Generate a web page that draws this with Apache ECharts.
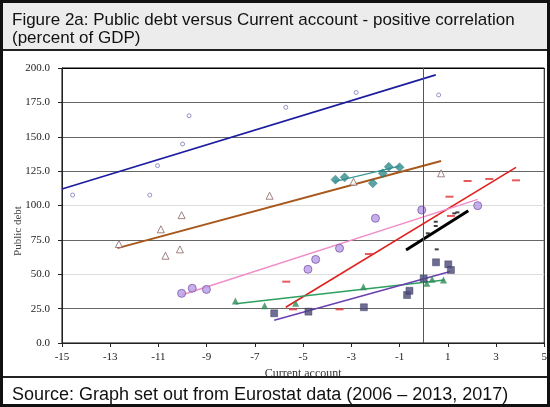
<!DOCTYPE html>
<html>
<head>
<meta charset="utf-8">
<script src="https://cdn.jsdelivr.net/npm/echarts@6/dist/echarts.min.js"></script>
<style>
  html, body { margin: 0; padding: 0; background: #fff; }
  #chart { width: 550px; height: 407px; }
</style>
</head>
<body>
<div id="chart"></div>
<script>
// points: [current account, public debt]
const bluePts = [[-14.56, 107.6], [-11.36, 107.6], [-11.04, 129.0], [-10.0, 144.7], [-9.73, 165.3], [-5.72, 171.4], [-2.8, 182.2], [0.62, 180.4]]
const blueTrend = [[-15, 112], [0.5, 195]]

const orangePts = [[-12.64, 72], [-10.9, 82.7], [-10.71, 63.5], [-10.11, 68.1], [-10.04, 93], [-6.39, 107.1], [-2.91, 117.3], [0.72, 123.4]]
const orangeTrend = [[-12.7, 69], [0.72, 132.4]]

const tealPts = [[-3.66, 118.8], [-3.28, 120.5], [-2.11, 116.1], [-1.7, 123.4], [-1.45, 128.2], [-1.0, 127.8]]
const tealTrend = [[-3.7, 117.3], [-1.0, 128.7]]

const redPts = [[-5.7, 44.6], [-5.42, 24.5], [-3.49, 24.5], [-2.27, 64.7], [1.13, 92.4], [1.07, 106.4], [1.82, 117.8], [2.72, 119.3], [3.83, 118.3]]
const redTrend = [[-5.72, 26], [3.83, 127.7]]

const pinkPts = [[-10.04, 36.1], [-9.6, 39.8], [-9.01, 39], [-4.8, 53.6], [-4.48, 60.8], [-3.49, 68.9], [-2.0, 90.7], [-0.08, 96.7], [2.24, 99.9]]
const pinkTrend = [[-10.04, 34.9], [2.24, 104.5]]

const greenPts = [[-7.81, 30.5], [-6.6, 27.1], [-5.31, 28.9], [-2.5, 41], [0.13, 43.4], [0.35, 46.3], [0.82, 45.8]]
const greenTrend = [[-7.8, 28.5], [0.86, 45.9]]

const navyPts = [[-6.2, 21.6], [-4.78, 22.8], [-2.48, 26], [-0.69, 34.9], [-0.59, 38], [0.0, 47], [0.51, 58.7], [1.02, 57.2], [1.13, 53.1]]
const navyTrend = [[-6.2, 16.5], [1.1, 52]]

const blackPts = [[0.17, 79.8], [0.5, 88.2], [0.5, 85.1], [0.54, 68.1], [1.27, 94.3], [1.4, 95]]
const blackTrend = [[-0.73, 67.6], [1.85, 96.2]]

// y gridline colours, from 0 up to 200 (the 50 and 100 lines are faint)
const gridColors = ['#000', '#666', '#ddd', '#666', '#ddd', '#666', '#666', '#666', '#000']

const serif = 'Liberation Serif'
const sans = 'Liberation Sans'

const trend = (data, color, width) => ({
  type: 'line', data, symbol: 'none', silent: true,
  lineStyle: { color, width }, z: 3
})

const pts = (data, symbol, size, itemStyle) => ({
  type: 'scatter', data, symbol, symbolSize: size, itemStyle, z: 4
})

const chart = echarts.init(document.getElementById('chart'))

chart.setOption({
  animation: false,
  backgroundColor: '#fff',
  textStyle: { fontFamily: serif },
  title: [
    {
      text: 'Figure 2a: Public debt versus Current account - positive correlation\n(percent of GDP)',
      left: 7, top: 6,
      textStyle: { fontFamily: sans, fontSize: 17, fontWeight: 'normal', color: '#111', lineHeight: 18 }
    },
    {
      text: 'Source: Graph set out from Eurostat data (2006 – 2013, 2017)',
      left: 7, top: 381,
      textStyle: { fontFamily: sans, fontSize: 18, fontWeight: 'normal', color: '#111' }
    }
  ],
  graphic: [
    { type: 'rect', shape: { x: 0, y: 0, width: 550, height: 50 }, style: { fill: '#ececec' }, z: -10 },
    { type: 'rect', shape: { x: 0, y: 49, width: 550, height: 2 }, style: { fill: '#222' }, z: 10 },
    { type: 'rect', shape: { x: 0, y: 376, width: 550, height: 2 }, style: { fill: '#222' }, z: 10 },
    { type: 'rect', shape: { x: 1.5, y: 1.5, width: 547, height: 404 }, style: { fill: 'none', stroke: '#111', lineWidth: 3 }, z: 10 },
    {
      type: 'text', x: 18, y: 231, rotation: Math.PI / 2,
      style: { text: 'Public debt', fontFamily: serif, fontSize: 11, fill: '#444', textAlign: 'center', textVerticalAlign: 'middle' }
    }
  ],
  grid: { left: 62, right: 5, top: 68, bottom: 64, show: true, borderColor: '#000', borderWidth: 1 },
  xAxis: {
    type: 'value', min: -15, max: 5, interval: 2,
    name: 'Current account', nameLocation: 'middle', nameGap: 24,
    nameTextStyle: { fontFamily: serif, fontSize: 12, color: '#333' },
    axisLine: { onZero: false, lineStyle: { color: '#222' } },
    axisTick: { show: true, length: 4, lineStyle: { color: '#222' } },
    axisLabel: { fontFamily: serif, fontSize: 11, color: '#222', margin: 9 },
    splitLine: { show: false }
  },
  yAxis: {
    type: 'value', min: 0, max: 200, interval: 25,
    axisLine: { show: true, onZero: false, lineStyle: { color: '#222' } },
    axisTick: { show: true, length: 4, lineStyle: { color: '#222' } },
    axisLabel: { fontFamily: serif, fontSize: 11, color: '#222', margin: 12, formatter: v => v.toFixed(1) },
    splitLine: { show: true, lineStyle: { color: gridColors, width: 1 } }
  },
  series: [
    {
      type: 'line', data: [], silent: true,
      markLine: {
        silent: true, symbol: 'none', label: { show: false },
        lineStyle: { color: '#555', width: 1, type: 'solid' },
        data: [{ xAxis: 0 }]
      }
    },
    trend(blueTrend, '#1c1ca0', 1.6),
    trend(orangeTrend, '#a8581c', 2),
    trend(tealTrend, '#3a9a9a', 1.3),
    trend(redTrend, '#e0201c', 1.6),
    trend(pinkTrend, '#f08cc8', 1.4),
    trend(greenTrend, '#2ea060', 1.5),
    trend(navyTrend, '#6a3fb0', 1.5),
    trend(blackTrend, '#000', 3),
    pts(bluePts, 'circle', 4, { color: '#fff', borderColor: '#7a7ab8', borderWidth: 1 }),
    pts(orangePts, 'triangle', 7, { color: '#fff', borderColor: '#8a6464', borderWidth: 1 }),
    pts(tealPts, 'diamond', 9, { color: '#2f8c8c', borderColor: '#1f6a6a', borderWidth: 0.5 }),
    pts(redPts, 'rect', [8, 2], { color: '#e03030' }),
    pts(pinkPts, 'circle', 8, { color: '#b99be6', borderColor: '#7a5aa8', borderWidth: 1 }),
    pts(greenPts, 'triangle', 7, { color: '#2e8b57' }),
    pts(navyPts, 'rect', 7, { color: '#4a4a78', borderColor: '#2c2c50', borderWidth: 0.5 }),
    pts(blackPts, 'rect', [4, 2], { color: '#111' })
  ]
})
</script>
</body>
</html>
